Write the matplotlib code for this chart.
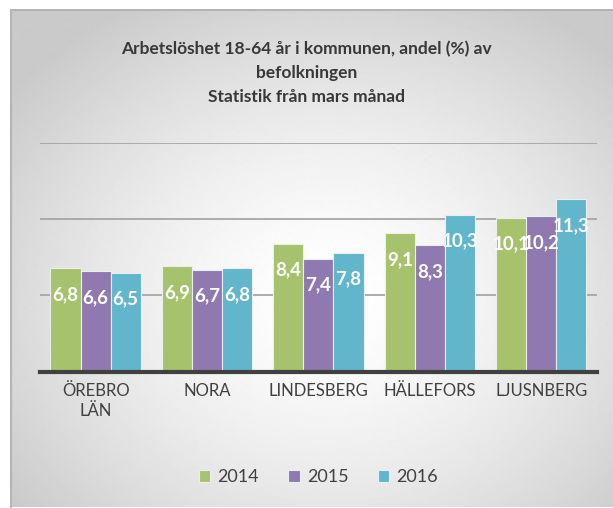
import numpy as np
import matplotlib
matplotlib.use("Agg")
import matplotlib.pyplot as plt

# data
categories = ["ÖREBRO\nLÄN", "NORA", "LINDESBERG", "HÄLLEFORS", "LJUSNBERG"]
years = ["2014", "2015", "2016"]
v2014 = [6.8, 6.9, 8.4, 9.1, 10.1]
v2015 = [6.6, 6.7, 7.4, 8.3, 10.2]
v2016 = [6.5, 6.8, 7.8, 10.3, 11.3]
colors = ["#A6C26C", "#8F79B0", "#62B6CC"]

plt.rcParams['font.family'] = ['Lato', 'DejaVu Sans']
txt = "#404040"

fig = plt.figure(figsize=(6.13, 5.08), dpi=100, facecolor="white")

# radial gray background panel (inset from top and left like the reference)
W, H = 613, 508
x0, y0 = 10, 9
bg = fig.add_axes([x0 / W, 0, 1 - x0 / W, 1 - y0 / H], zorder=-5)
h, w = H - y0, W - x0
yy, xx = np.mgrid[0:h, 0:w]
r = np.sqrt(((xx - 320) / 400.0) ** 2 + ((yy - 290) / 340.0) ** 2)
img = 1.0 - 0.21 * np.clip(r, 0, 1) ** 1.5
bg.imshow(img, cmap="gray", vmin=0, vmax=1, aspect="auto")
bg.plot([0.5, 0.5, w], [h, 0.5, 0.5], color="#b4b4b4", lw=1.5)
bg.set_xlim(0, w)
bg.set_ylim(h, 0)
bg.axis("off")

ax = fig.add_axes([0.065, 0.268, 0.909, 0.451])
ax.patch.set_alpha(0)

x = np.arange(len(categories))
bw = 0.27
series = [v2014, v2015, v2016]
for i, vals in enumerate(series):
    bars = ax.bar(x + (i - 1) * bw, vals, bw, color=colors[i],
                  edgecolor="#e8eef2", linewidth=0.8, label=years[i], zorder=3)
    for b, v in zip(bars, vals):
        ax.annotate(f"{v:.1f}".replace(".", ","),
                    (b.get_x() + b.get_width() / 2, v),
                    xytext=(0, -19), textcoords="offset points",
                    ha="center", va="center", color="white",
                    fontsize=13.5, fontweight="bold", zorder=4)

ax.set_ylim(0, 15)
ax.set_xlim(-0.5, len(categories) - 0.5)
ax.set_yticks([5, 10, 15])
ax.set_yticklabels([])
ax.tick_params(axis="y", length=0)
ax.yaxis.grid(True, color="#a6a6a6", lw=1.3, zorder=0)
ax.set_xticks(x)
ax.set_xticklabels(categories, fontsize=12, color=txt, linespacing=1.3)
ax.tick_params(axis="x", length=0, pad=8)
for s in ["top", "right", "left"]:
    ax.spines[s].set_visible(False)
ax.spines["bottom"].set_color("#404040")
ax.spines["bottom"].set_linewidth(3)
ax.spines["bottom"].set_zorder(5)

fig.text(0.5, 0.92, "Arbetslöshet 18-64 år i kommunen, andel (%) av\nbefolkningen\nStatistik från mars månad",
         ha="center", va="top", fontsize=12.5, fontweight="bold", color="#383838", linespacing=1.62)

leg = ax.legend(loc="center", bbox_to_anchor=(0.5, -0.46), ncol=3, frameon=False,
                fontsize=13, handlelength=0.65, handleheight=0.65,
                handletextpad=0.4, columnspacing=1.6)
for t in leg.get_texts():
    t.set_color(txt)

fig.savefig("out.png", dpi=100)
